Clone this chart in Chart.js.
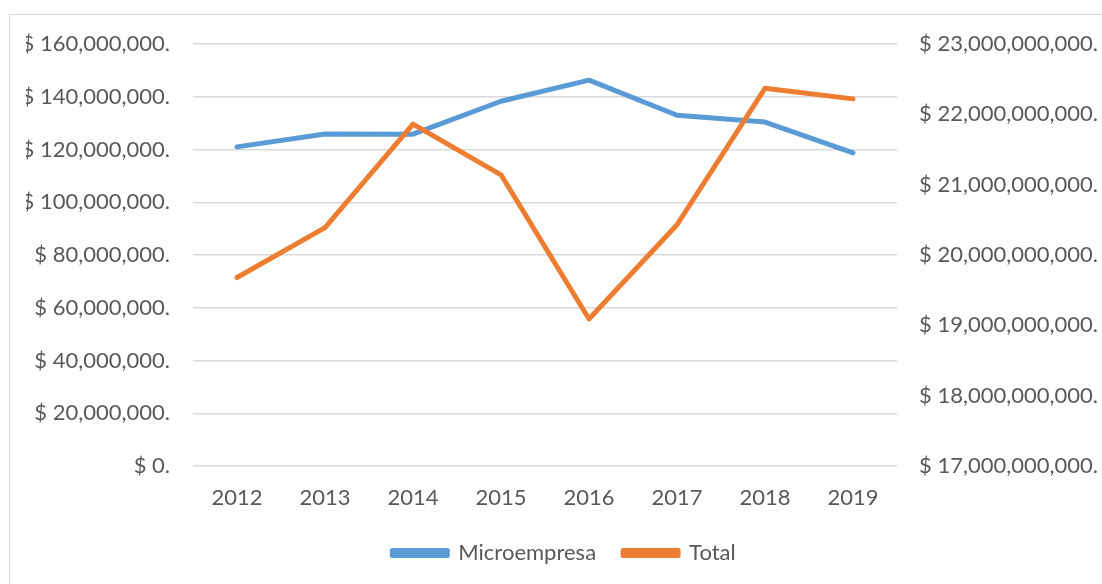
<!DOCTYPE html>
<html><head><meta charset="utf-8">
<script src="https://cdn.jsdelivr.net/npm/chart.js@4.4.1/dist/chart.umd.min.js"></script>
<style>
html,body{margin:0;padding:0;background:#fff;overflow:hidden;}
#wrap{position:relative;width:1102px;height:584px;overflow:hidden;}
#frame{position:absolute;left:9px;top:14px;width:1200px;height:700px;border:1px solid #d9d9d9;box-sizing:border-box;}
canvas{position:absolute;left:0;top:0;}
</style></head><body>
<div id="wrap"><div id="frame"></div><canvas id="c" width="1102" height="584"></canvas></div>
<script>
const years = ['2012','2013','2014','2015','2016','2017','2018','2019'];
const microempresa = [121.0e6, 125.9e6, 125.8e6, 138.3e6, 146.3e6, 133.0e6, 130.4e6, 118.7e6];
const total = [19.68e9, 20.39e9, 21.86e9, 21.14e9, 19.09e9, 20.43e9, 22.37e9, 22.22e9];
const leftAxis = {min: 0, max: 160e6, step: 20e6};
const rightAxis = {min: 17e9, max: 23e9, step: 1e9};

const fmt = v => '$ ' + Number(v).toLocaleString('en-US') + '.';
const FONT = {family: 'Lato', size: 22};
const TXT = '#595959';

new Chart(document.getElementById('c'), {
  type: 'line',
  data: {
    labels: years,
    datasets: [
      {label: 'Microempresa', data: microempresa, yAxisID: 'y', borderColor: '#5b9bd5', backgroundColor: '#5b9bd5', order: 1},
      {label: 'Total', data: total, yAxisID: 'y1', borderColor: '#ed7d31', backgroundColor: '#ed7d31', order: 0}
    ]
  },
  options: {
    responsive: false,
    animation: false,
    devicePixelRatio: 1,
    layout: {padding: {left: 26, right: 0, top: 44, bottom: 10}},
    elements: {
      line: {borderWidth: 5, tension: 0, borderCapStyle: 'round', borderJoinStyle: 'round'},
      point: {radius: 0, hoverRadius: 0}
    },
    plugins: {
      tooltip: {enabled: false},
      legend: {
        position: 'bottom',
        labels: {
          font: FONT, color: TXT, boxWidth: 55, boxHeight: 5, padding: 27,
          sort: (a, b) => a.datasetIndex - b.datasetIndex
        }
      }
    },
    scales: {
      x: {
        offset: true,
        grid: {display: false, drawTicks: false, offset: true},
        border: {display: false},
        ticks: {font: FONT, color: TXT, padding: 19, maxRotation: 0},
        afterFit: s => { s.height = 49; }
      },
      y: {
        position: 'left',
        min: leftAxis.min, max: leftAxis.max,
        grid: {color: '#d9d9d9', lineWidth: 1.5, drawTicks: false},
        border: {display: false},
        ticks: {font: FONT, color: TXT, padding: 23, stepSize: leftAxis.step, callback: fmt},
        afterFit: s => { s.width = 167; }
      },
      y1: {
        position: 'right',
        min: rightAxis.min, max: rightAxis.max,
        grid: {display: false, drawTicks: false},
        border: {display: false},
        ticks: {font: FONT, color: TXT, padding: 22, stepSize: rightAxis.step, callback: fmt},
        afterFit: s => { s.width = 205; }
      }
    }
  }
});
</script>
</body></html>
